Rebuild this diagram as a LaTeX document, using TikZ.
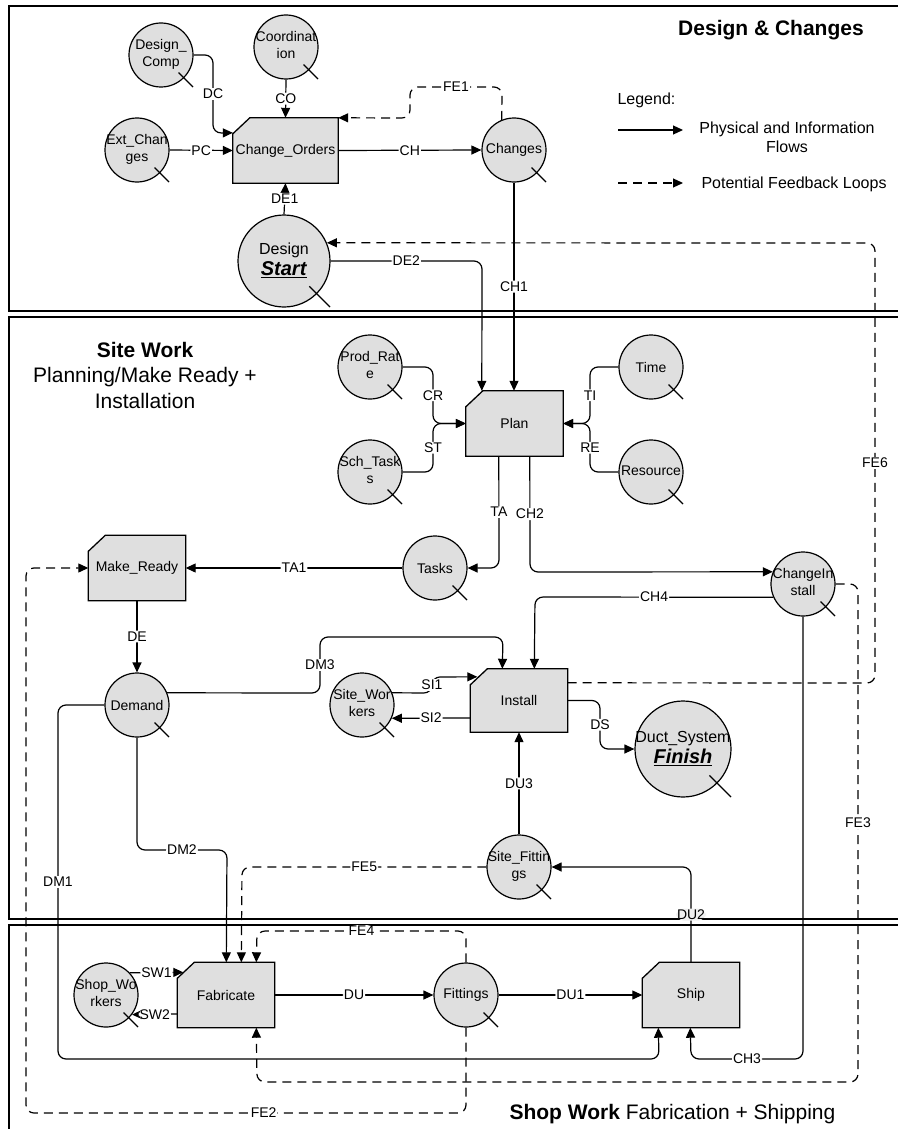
\documentclass[tikz,border=0pt]{standalone}
\usepackage{fontspec}
\setmainfont{Liberation Sans}
\usetikzlibrary{arrows.meta, calc, positioning}
\pgfdeclarelayer{bg}
\pgfsetlayers{bg,main}

\newcommand{\lblfont}{\fontsize{14}{17}\selectfont}
\newcommand{\hdfont}{\fontsize{21}{25.5}\selectfont}
\newcommand{\lgfont}{\fontsize{16}{19}\selectfont}
\newcommand{\ct}[1]{\makebox[0pt]{\begin{tabular}{@{}c@{}}#1\end{tabular}}}

\tikzset{
  conv/.style={circle, draw, line width=1.2pt, fill=gray!25, minimum size=64pt, inner sep=0pt, font=\lblfont},
  stock/.style={minimum width=97pt, minimum height=65pt, inner sep=0pt, font=\lblfont},
  flow/.style={line width=1.2pt, rounded corners=8pt, -{Triangle[length=10pt,width=9pt]}},
  fback/.style={flow, dash pattern=on 9pt off 6pt},
  lbl/.style={fill=white, inner sep=1pt, font=\lblfont},
  sector/.style={line width=1.5pt},
}

\begin{document}
\begin{tikzpicture}[x=1pt, y=-1pt]
\useasboundingbox (0,0) rectangle (897,1129);
%\draw [step=50] (0,0) grid (897,1129);

% the three work areas
\draw[sector] (9,6) rectangle (900,311);
\draw[sector] (9,317) rectangle (900,919);
\draw[sector] (9,1140) -- (9,925) -- (900,925) -- (900,1140);

\node[font=\hdfont\bfseries] (tdesign) at (771,30) {Design \& Changes};
\node[font=\hdfont, align=center] (tsite) at (145,375) {\textbf{Site Work}\\Planning/Make Ready +\\Installation};
\node[font=\hdfont, anchor=west] (tshop) at (506,1114) {\textbf{Shop Work} Fabrication + Shipping};

% legend
\node[font=\lgfont, anchor=west] (legend) at (614,100) {Legend:};
\coordinate (lega) at (618,130);
\coordinate (legb) at (683,130);
\coordinate (legc) at (618,183);
\coordinate (legd) at (683,183);
\draw[flow] (lega) -- (legb);
\draw[fback] (legc) -- (legd);
\node[font=\lgfont, align=center] (legflow) at (787,137) {Physical and Information\\Flows};
\node[font=\lgfont, anchor=west] (legfb) at (698,184) {Potential Feedback Loops};

% stocks
\node[stock, minimum width=105pt] (chord) at (285.5,150.5) {Change\_Orders};
\node[stock] (plan) at (514.5,423.5) {Plan};
\node[stock] (mready) at (137,568) {Make\_Ready};
\node[stock, minimum height=63pt] (install) at (519,700.5) {Install};
\node[stock] (fab) at (226,995) {Fabricate};
\node[stock] (ship) at (691,995) {Ship};

\begin{pgfonlayer}{bg}
\foreach \b in {chord,plan,mready,install,fab,ship}
  \filldraw[line width=1.3pt, fill=gray!25] (\b.south west) -- ($(\b.north west)+(0,16)$) -- ($(\b.north west)+(17,0)$) -- (\b.north east) -- (\b.south east) -- cycle;
\end{pgfonlayer}

% converters
\node[conv] (dcomp) at (161,55) {\ct{Design\_\\Comp}};
\node[conv] (coord) at (286,47) {\ct{Coordinat\\ion}};
\node[conv] (extch) at (137,150) {\ct{Ext\_Chan\\ges}};
\node[conv, minimum size=92pt, font=\fontsize{16}{21}\selectfont] (design) at (284,261) {\ct{Design\\{\fontsize{20}{22}\selectfont\underline{\textbf{\textit{Start}}}}}};
\node[conv] (changes) at (514,150) {Changes};
\node[conv] (prate) at (370,367) {\ct{Prod\_Rat\\e}};
\node[conv] (schtask) at (370,472) {\ct{Sch\_Task\\s}};
\node[conv] (time) at (651,367) {Time};
\node[conv] (resource) at (651,472) {\ct{Resource}};
\node[conv] (tasks) at (435,568) {Tasks};
\node[conv] (chinst) at (803,584) {\ct{ChangeIn\\stall}};
\node[conv] (demand) at (137,705) {Demand};
\node[conv] (sitew) at (362,705) {\ct{Site\_Wor\\kers}};
\node[conv, minimum size=96pt, font=\fontsize{16}{21}\selectfont] (duct) at (683,749) {\ct{Duct\_System\\{\fontsize{20}{22}\selectfont\underline{\textbf{\textit{Finish}}}}}};
\node[conv] (sitefit) at (519,867) {\ct{Site\_Fittin\\gs}};
\node[conv] (shopw) at (106,995) {\ct{Shop\_Wo\\rkers}};
\node[conv] (fittings) at (466,995) {Fittings};

\foreach \n/\r in {dcomp/32,coord/32,extch/32,design/46,changes/32,prate/32,schtask/32,time/32,resource/32,tasks/32,chinst/32,demand/32,sitew/32,duct/48,sitefit/32,shopw/32,fittings/32}
  \draw[line width=1.2pt] ($(\n.center)+(0.55*\r,0.55*\r)$) -- ($(\n.center)+(\r,\r)$);

% design and changes
\draw[flow] (dcomp.east) -- (213,55) -- node[lbl]{DC} (213,133) -- ($(chord.north west)+(0,15)$);
\draw[flow] (coord.south) -- node[lbl]{CO} (chord.north);
\draw[flow] (extch.east) -- node[lbl]{PC} (chord.west);
\draw[flow] (chord.east) -- node[lbl]{CH} (changes.west);
\draw[flow] (design.north) -- node[lbl]{DE1} (chord.south);
\draw[fback] (changes.112) -- (502,87) -- node[lbl]{FE1} (410,87) -- (410,118) -- (chord.north east);
\draw[flow] (design.east) -- node[lbl]{DE2} (482,261) -- ($(plan.north west)+(16,0)$);
\draw[flow] (changes.south) -- node[lbl]{CH1} (changes.south |- plan.north);
\draw[fback] ($(install.north east)+(0,14)$) -- (875,683) -- node[lbl]{FE6} (875,243) -- (design.23);

% site work
\draw[flow] (prate.east) -- (433,367) -- node[lbl]{CR} (433,423.5) -- (plan.west);
\draw[flow] (schtask.east) -- (433,472) -- node[lbl]{ST} (433,423.5) -- (plan.west);
\draw[flow] (time.west) -- (590,367) -- node[lbl]{TI} (590,423.5) -- (plan.east);
\draw[flow] (resource.west) -- (590,472) -- node[lbl]{RE} (590,423.5) -- (plan.east);
\draw[flow] ($(plan.south west)+(33,0)$) -- node[lbl]{TA} (499,568) -- (tasks.east);
\draw[flow] ($(plan.south west)+(64,0)$) -- node[lbl]{CH2} (530,572) -- (chinst.158);
\draw[flow] (tasks.west) -- node[lbl]{TA1} (mready.east);
\draw[flow] (mready.south) -- node[lbl]{DE} (demand.north);
\draw[flow] (chinst.204) -- node[lbl]{CH4} (535,597) -- ($(install.north west)+(64,0)$);
\draw[flow] (demand.22) -- (320,693) -- node[lbl]{DM3} (320,637) -- (503,637) -- ($(install.north west)+(32,0)$);
\draw[flow] (sitew.22) -- (432,693) -- node[lbl]{SI1} (432,677) -- ($(install.north west)+(7,8)$);
\draw[flow] ($(install.west)+(0,17.5)$) -- node[lbl]{SI2} (sitew.-24);
\draw[flow] (install.east) -- (600,700.5) -- node[lbl]{DS} (600,749) -- (duct.west);
\draw[flow] (sitefit.north) -- node[lbl]{DU3} (install.south);
\draw[fback] (sitefit.west) -- node[lbl]{FE5} (242,867) -- ($(fab.north west)+(64,0)$);
\draw[flow] (demand.south) -- (137,850) -- node[lbl]{DM2} (227,850) -- ($(fab.north west)+(49,0)$);

% shop work
\draw[flow] (ship.north) -- node[lbl, fill=gray!12]{DU2} (691,867) -- (sitefit.east);
\draw[flow] (demand.west) -- (58,705) -- node[lbl]{DM1} (58,1059) -- (659,1059) -- ($(ship.south west)+(16,0)$);
\draw[flow] (shopw.43) -- node[lbl]{SW1} ($(fab.north west)+(6,10)$);
\draw[flow] ($(fab.west)+(0,19)$) -- node[lbl]{SW2} (shopw.-37);
\draw[flow] (fab.east) -- node[lbl]{DU} (fittings.west);
\draw[flow] (fittings.east) -- node[lbl]{DU1} (ship.west);
\draw[flow] (chinst.south) -- (803,1059) -- node[lbl]{CH3} (691,1059) -- ($(ship.south west)+(48,0)$);
\draw[fback] (fittings.north) -- (466,931) -- node[lbl]{FE4} (257,931) -- ($(fab.north west)+(79,0)$);
\draw[fback] (fittings.south) -- (466,1113) -- node[lbl, pos=.46]{FE2} (26,1113) -- (26,568) -- (mready.west);
\draw[fback] (chinst.east) -- (858,584) -- node[lbl, pos=.48]{FE3} (858,1082) -- (257,1082) -- ($(fab.south west)+(79,0)$);
\end{tikzpicture}
\end{document}
